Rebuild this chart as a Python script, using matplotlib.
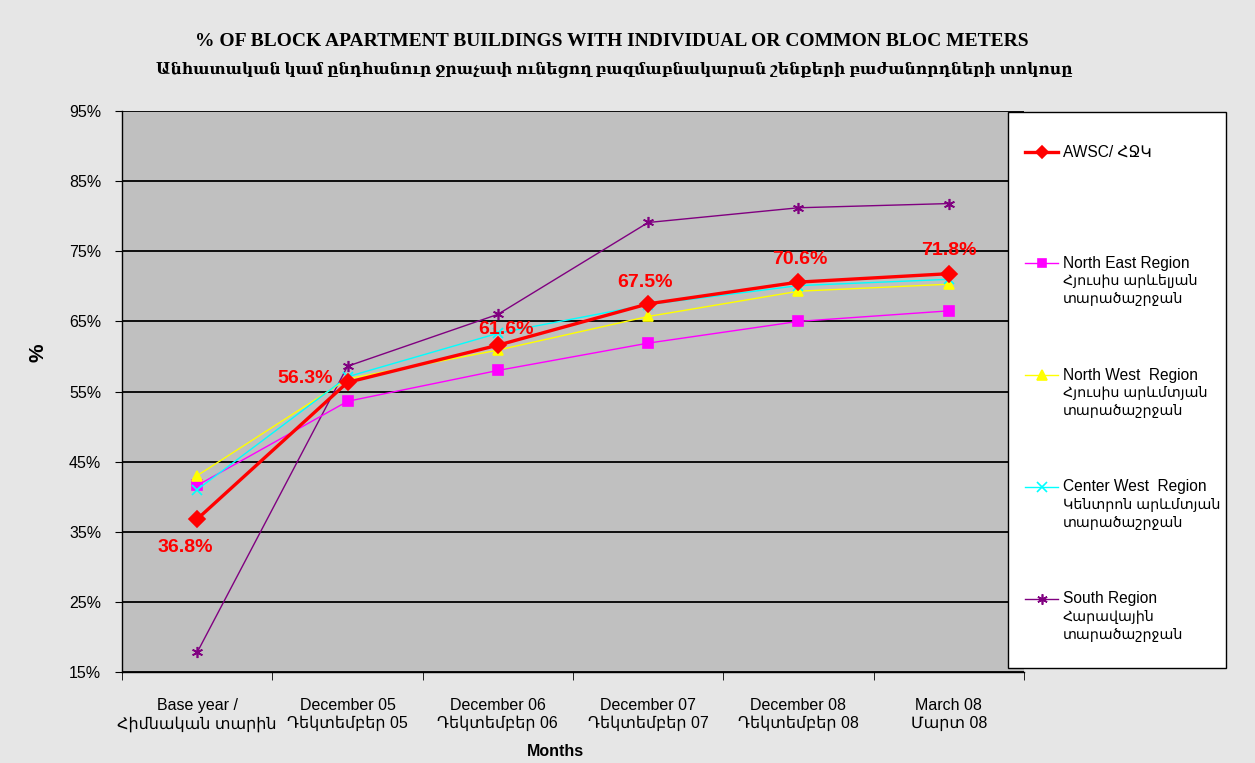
import matplotlib.pyplot as plt
from matplotlib.lines import Line2D
from matplotlib.patches import Rectangle

# data
months = ["Base year /\nՀիմնական տարին", "December 05\nԴեկտեմբեր 05",
          "December 06\nԴեկտեմբեր 06", "December 07\nԴեկտեմբեր 07",
          "December 08\nԴեկտեմբեր 08", "March 08\nՄարտ 08"]
awsc = [36.8, 56.3, 61.6, 67.5, 70.6, 71.8]
north_east = [41.6, 53.6, 58.0, 61.9, 65.0, 66.5]
north_west = [43.0, 56.8, 60.9, 65.7, 69.3, 70.3]
center_west = [41.0, 57.1, 63.3, 67.4, 70.1, 71.0]
south = [17.8, 58.6, 66.0, 79.1, 81.2, 81.8]
awsc_labels = ["36.8%", "56.3%", "61.6%", "67.5%", "70.6%", "71.8%"]
yticks = [15, 25, 35, 45, 55, 65, 75, 85, 95]

legend_names = [("AWSC/ ՀՋԿ", []),
                ("North East Region", ["Հյուսիս արևելյան", "տարածաշրջան"]),
                ("North West  Region", ["Հյուսիս արևմտյան", "տարածաշրջան"]),
                ("Center West  Region", ["Կենտրոն արևմտյան", "տարածաշրջան"]),
                ("South Region", ["Հարավային", "տարածաշրջան"])]

SANS = ["Liberation Sans", "DejaVu Sans"]
SERIF = ["Liberation Serif", "DejaVu Serif"]
plt.rcParams['font.family'] = SANS

W, H = 1255, 763
fig = plt.figure(figsize=(W / 100, H / 100), dpi=100, facecolor="#e6e6e6")
ax = fig.add_axes([122 / W, 1 - 672 / H, 902 / W, 561 / H])
ax.set_facecolor("#c0c0c0")

x = list(range(len(months)))
series = [
    (awsc, "#ff0000", "D", 8, 2.4),
    (north_east, "#ff00ff", "s", 6.5, 1.0),
    (north_west, "#ffff00", "^", 7, 1.0),
    (center_west, "#00ffff", "x", 6.5, 1.0),
    (south, "#800080", (6, 2, 0), 8, 1.0),
]
order = [4, 1, 2, 3, 0]
for i in order:
    vals, col, mk, ms, lw = series[i]
    ax.plot(x, vals, color=col, marker=mk, markersize=ms, linewidth=lw,
            markeredgecolor=col, markeredgewidth=1.2, zorder=3 + (i == 0))

offsets = [(-12, -28), (-42, 4), (8, 16), (-3, 21), (1, 23), (0, 23)]
for xi, v, lab, off in zip(x, awsc, awsc_labels, offsets):
    ax.annotate(lab, (xi, v), xytext=off, textcoords="offset pixels",
                ha="center", va="center", color="#ff0000", fontsize=14,
                fontweight="bold", zorder=6)

ax.set_xlim(-0.5, 5.5)
ax.set_ylim(15, 95)
ax.set_yticks(yticks)
ax.set_yticklabels([f"{t}%" for t in yticks], fontsize=11.5)
ax.grid(axis="y", color="black", linewidth=1.3)
ax.set_axisbelow(True)
ax.set_xticks(x)
ax.set_xticklabels(months, fontsize=11.5, linespacing=1.2)
ax.set_xticks([i - 0.5 for i in range(len(months) + 1)], minor=True)
ax.tick_params(axis="x", which="major", length=0, pad=19)
ax.tick_params(axis="x", which="minor", length=6, direction="out")
ax.tick_params(axis="y", length=5, direction="out", pad=10)
for s in ["top", "right"]:
    ax.spines[s].set_visible(False)
for s in ["left", "bottom"]:
    ax.spines[s].set_linewidth(1.0)

fig.text(38 / W, 1 - 353 / H, "%", ha="center", va="center", rotation=90,
         fontsize=15, fontweight="bold")
fig.text(555 / W, 1 - 751 / H, "Months", ha="center", va="center",
         fontsize=11.5, fontweight="bold")

fig.text(612 / W, 1 - 42 / H,
         "% OF BLOCK APARTMENT BUILDINGS WITH INDIVIDUAL OR COMMON BLOC METERS",
         ha="center", va="center", fontsize=14, fontweight="bold",
         family=SERIF)
fig.text(614 / W, 1 - 69 / H,
         "Անհատական կամ ընդհանուր ջրաչափ ունեցող բազմաբնակարան շենքերի բաժանորդների տոկոսը",
         ha="center", va="center", fontsize=11.2, fontweight="bold",
         family=SERIF)

# legend box drawn by hand to match the spacing of the original
fig.add_artist(Rectangle((1008 / W, 1 - 668 / H), 218 / W, 556 / H,
                         transform=fig.transFigure, facecolor="white",
                         edgecolor="black", linewidth=1.0, zorder=5))
leg_y = [152, 263, 375, 487, 599]
leg_ms = [6, 6, 7, 6.5, 7.5]
for (vals, col, mk, ms, lw), (name, arm), ly, lms in zip(series, legend_names,
                                                         leg_y, leg_ms):
    yy = 1 - ly / H
    fig.add_artist(Line2D([1025 / W, 1058 / W], [yy, yy],
                          transform=fig.transFigure, color=col,
                          linewidth=lw, zorder=6))
    fig.add_artist(Line2D([1041.5 / W], [yy], transform=fig.transFigure,
                          color=col, marker=mk, markersize=lms,
                          markeredgecolor=col, markeredgewidth=1.2, zorder=6))
    fig.text(1063 / W, yy, name, ha="left", va="center",
             fontsize=11.2, zorder=7)
    for k, line in enumerate(arm):
        fig.text(1063 / W, 1 - (ly + 18 * (k + 1)) / H, line, ha="left",
                 va="center", fontsize=10.3, zorder=7)

fig.savefig("out.png", dpi=100, facecolor=fig.get_facecolor())
